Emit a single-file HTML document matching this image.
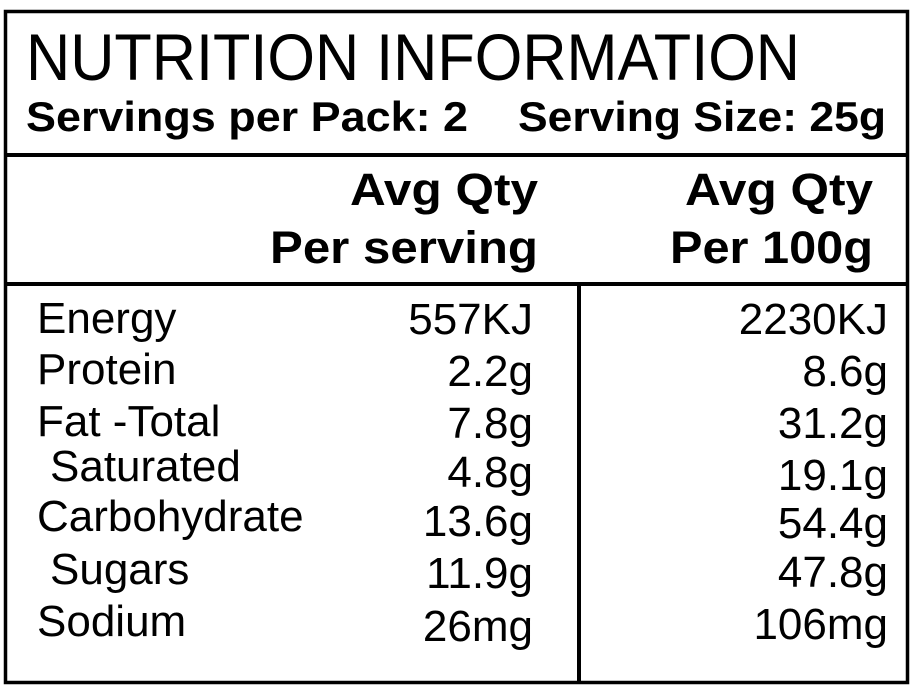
<!DOCTYPE html>
<html><head><meta charset="utf-8"><style>
html,body{margin:0;padding:0;background:#fff;}
svg{display:block;}
text{font-family:"Liberation Sans",Arial,sans-serif;fill:#000;}
.b{font-weight:bold;}
</style></head><body>
<svg width="916" height="688" viewBox="0 0 916 688" xmlns="http://www.w3.org/2000/svg">
<rect x="0" y="0" width="916" height="688" fill="#fff"/>
<rect x="5.5" y="11.5" width="902" height="671" fill="none" stroke="#000" stroke-width="3.5"/>
<line x1="5" y1="155" x2="908" y2="155" stroke="#000" stroke-width="4"/>
<line x1="5" y1="284" x2="908" y2="284" stroke="#000" stroke-width="4"/>
<line x1="579" y1="284" x2="579" y2="683" stroke="#000" stroke-width="4"/>

<text x="26" y="80" font-size="66" textLength="774" lengthAdjust="spacingAndGlyphs">NUTRITION INFORMATION</text>
<text class="b" x="26" y="131" font-size="42" textLength="442" lengthAdjust="spacingAndGlyphs">Servings per Pack: 2</text>
<text class="b" x="518" y="131" font-size="42" textLength="368" lengthAdjust="spacingAndGlyphs">Serving Size: 25g</text>

<text class="b" x="350" y="205" font-size="45" textLength="188" lengthAdjust="spacingAndGlyphs">Avg Qty</text>
<text class="b" x="270" y="263" font-size="45" textLength="268" lengthAdjust="spacingAndGlyphs">Per serving</text>
<text class="b" x="685" y="205" font-size="45" textLength="188" lengthAdjust="spacingAndGlyphs">Avg Qty</text>
<text class="b" x="670" y="263" font-size="45" textLength="203" lengthAdjust="spacingAndGlyphs">Per 100g</text>

<g font-size="44">
<text x="37" y="333">Energy</text>
<text x="37" y="384">Protein</text>
<text x="37" y="436">Fat -Total</text>
<text x="50" y="481">Saturated</text>
<text x="37" y="531">Carbohydrate</text>
<text x="50" y="584">Sugars</text>
<text x="37" y="636">Sodium</text>
</g>
<g font-size="44" text-anchor="end">
<text x="533" y="334">557KJ</text>
<text x="533" y="386">2.2g</text>
<text x="533" y="438">7.8g</text>
<text x="533" y="487">4.8g</text>
<text x="533" y="536">13.6g</text>
<text x="533" y="588">11.9g</text>
<text x="533" y="641">26mg</text>
<text x="888" y="334">2230KJ</text>
<text x="888" y="386">8.6g</text>
<text x="888" y="438">31.2g</text>
<text x="888" y="490">19.1g</text>
<text x="888" y="538">54.4g</text>
<text x="888" y="587">47.8g</text>
<text x="888" y="639">106mg</text>
</g>
</svg>
</body></html>
